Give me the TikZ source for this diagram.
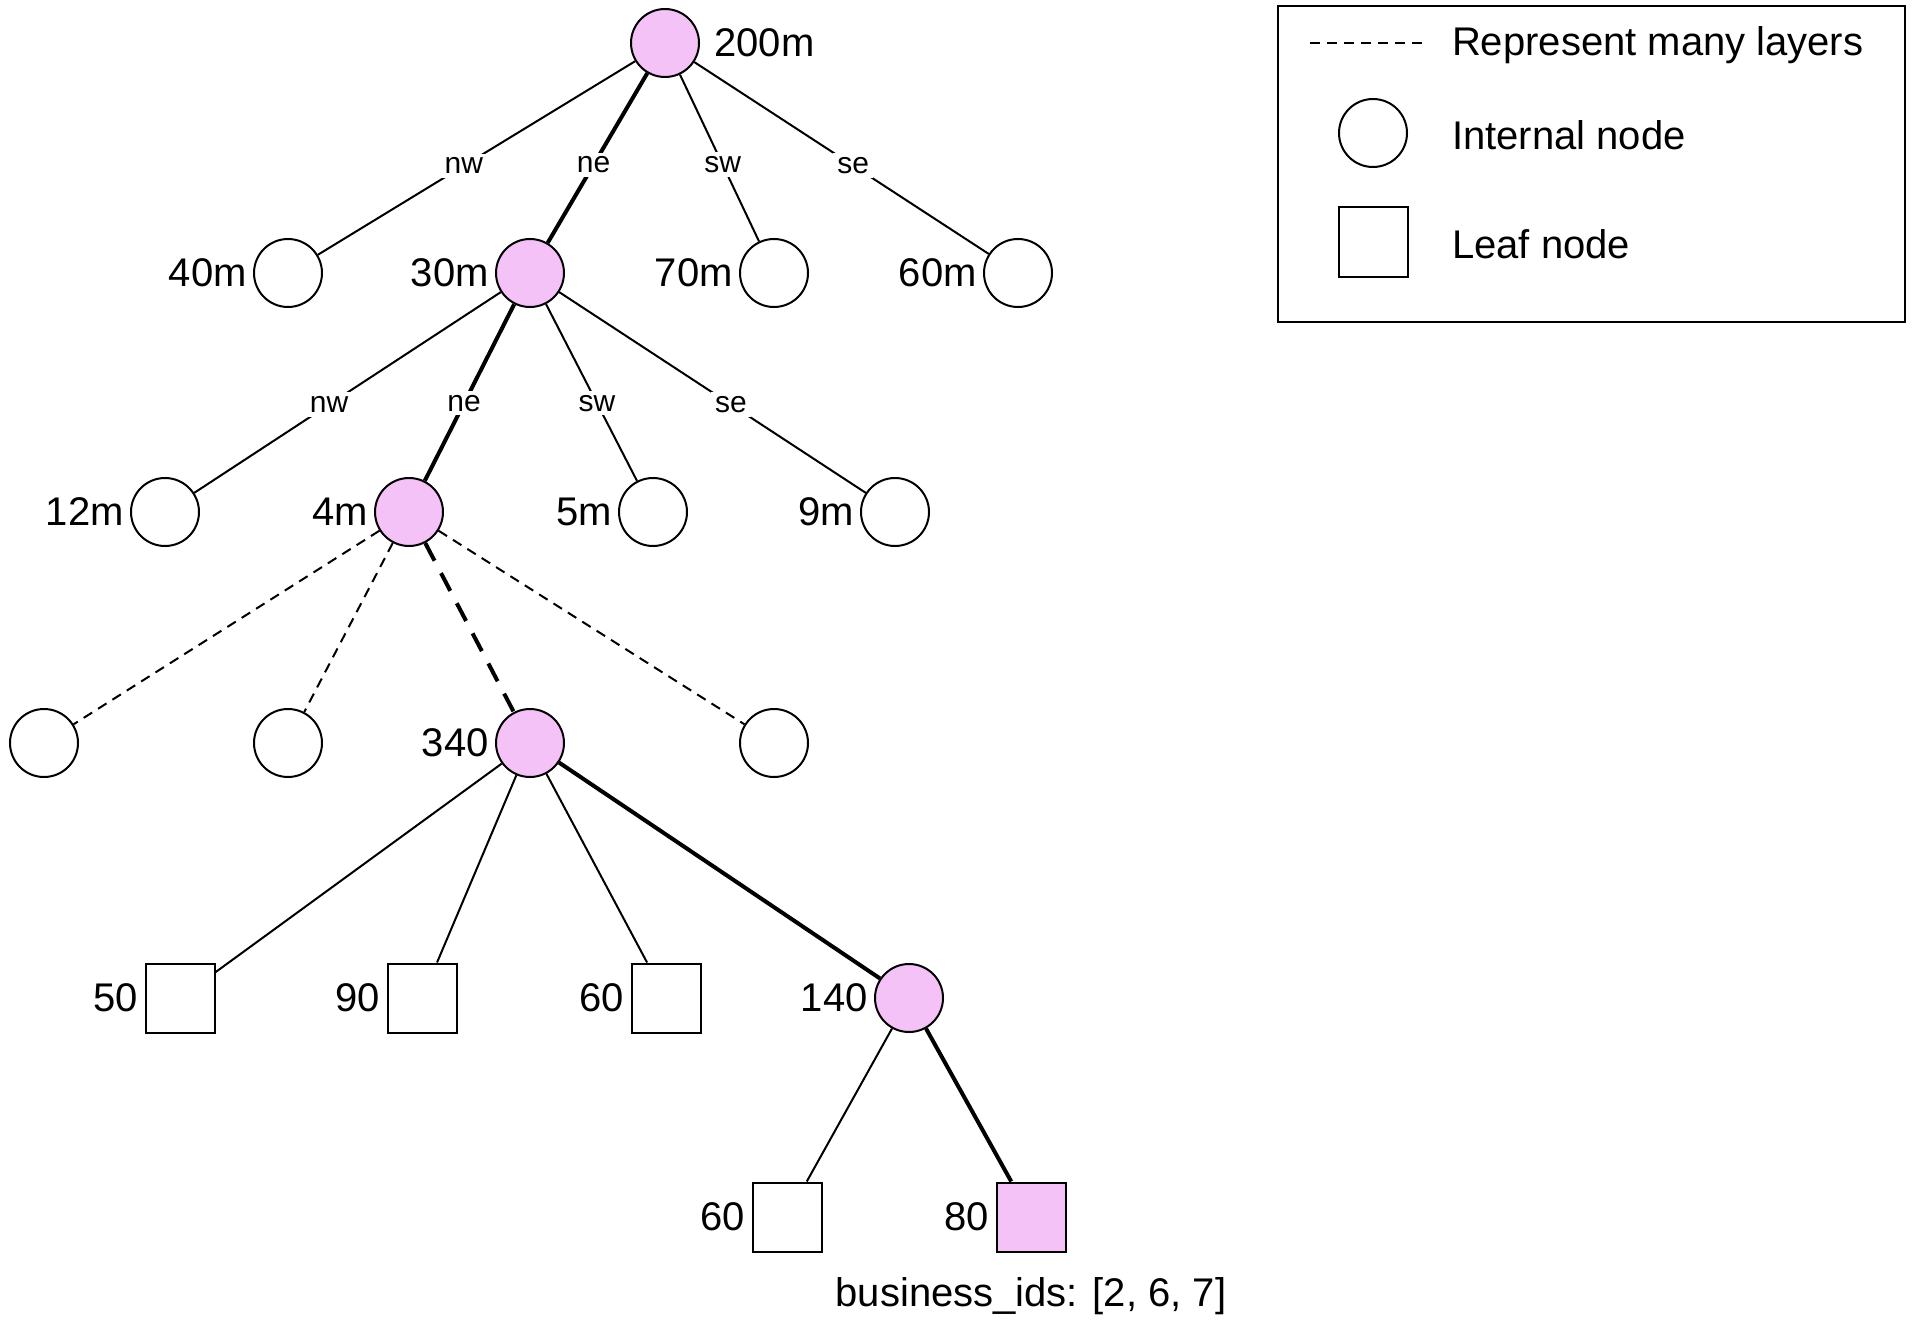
\documentclass[tikz,border=0pt]{standalone}
\usepackage{fontspec}
\setmainfont{Liberation Sans}
\usetikzlibrary{positioning}
\definecolor{hit}{HTML}{F4C2F6}

\begin{document}
\begin{tikzpicture}[x=0.5pt,y=-0.5pt,
    inner/.style={circle,draw,line width=1pt,minimum size=34pt,inner sep=0pt},
    leaf/.style={rectangle,draw,line width=1pt,minimum size=34.5pt,inner sep=0pt},
    onpath/.style={fill=hit},
    txt/.style={font=\fontsize{20}{24}\selectfont},
    lab/.style={label={[txt,inner sep=3pt]left:#1}},
    edge/.style={line width=1pt},
    walk/.style={line width=2pt},
    quad/.style={fill=white,inner sep=2pt,font=\fontsize{15}{18}\selectfont},
    many/.style={line width=1pt,dash pattern=on 5pt off 3.5pt},
    manywalk/.style={line width=2pt,dash pattern=on 10pt off 7pt}]
    \useasboundingbox (0,0) rectangle (1920,1332);

    % tree
    \node[inner,onpath,label={[txt,inner sep=7pt]right:200m}] (root) at (665,43) {};
    \node[inner,lab=40m] (n40) at (288,273) {};
    \node[inner,onpath,lab=30m] (n30) at (530,273) {};
    \node[inner,lab=70m] (n70) at (774,273) {};
    \node[inner,lab=60m] (n60) at (1018,273) {};
    \node[inner,lab=12m] (n12) at (165,512) {};
    \node[inner,onpath,lab=4m] (n4) at (409,512) {};
    \node[inner,lab=5m] (n5) at (653,512) {};
    \node[inner,lab=9m] (n9) at (895,512) {};
    \node[inner] (d1) at (44,743) {};
    \node[inner] (d2) at (288,743) {};
    \node[inner,onpath,lab=340] (n340) at (530,743) {};
    \node[inner] (d4) at (774,743) {};
    \node[leaf,lab=50] (l50) at (180,998) {};
    \node[leaf,lab=90] (l90) at (422,998) {};
    \node[leaf,lab=60] (l60) at (666,998) {};
    \node[inner,onpath,lab=140] (n140) at (909,998) {};
    \node[leaf,lab=60] (l60b) at (787,1217) {};
    \node[leaf,onpath,lab=80] (l80) at (1031,1217) {};
    \node[txt,below=9pt of l80] (ids) {business\_ids: [2, 6, 7]};

    \draw[edge] (root) -- node[quad,pos=0.54]{nw} (n40);
    \draw[walk] (root) -- node[quad,pos=0.54]{ne} (n30);
    \draw[edge] (root) -- node[quad,pos=0.54]{sw} (n70);
    \draw[edge] (root) -- node[quad,pos=0.54]{se} (n60);
    \draw[edge] (n30) -- node[quad,pos=0.56]{nw} (n12);
    \draw[walk] (n30) -- node[quad,pos=0.56]{ne} (n4);
    \draw[edge] (n30) -- node[quad,pos=0.56]{sw} (n5);
    \draw[edge] (n30) -- node[quad,pos=0.56]{se} (n9);
    \draw[many] (n4) -- (d1);
    \draw[many] (n4) -- (d2);
    \draw[manywalk] (n4) -- (n340);
    \draw[many] (n4) -- (d4);
    \draw[edge] (n340) -- (l50);
    \draw[edge] (n340) -- (l90);
    \draw[edge] (n340) -- (l60);
    \draw[walk] (n340) -- (n140);
    \draw[edge] (n140) -- (l60b);
    \draw[walk] (n140) -- (l80);

    % legend
    \draw[line width=1pt] (1278,6) rectangle (1905,322);
    \coordinate (ka) at (1310,43);
    \coordinate (kb) at (1426,43);
    \draw[many] (ka) -- (kb);
    \node[txt,anchor=west] (t1) at (1445,45) {Represent many layers};
    \node[inner] (kc) at (1373,133) {};
    \node[txt,anchor=west] (t2) at (1445,135) {Internal node};
    \node[leaf] (kl) at (1373,242) {};
    \node[txt,anchor=west] (t3) at (1445,244) {Leaf node};
\end{tikzpicture}
\end{document}
